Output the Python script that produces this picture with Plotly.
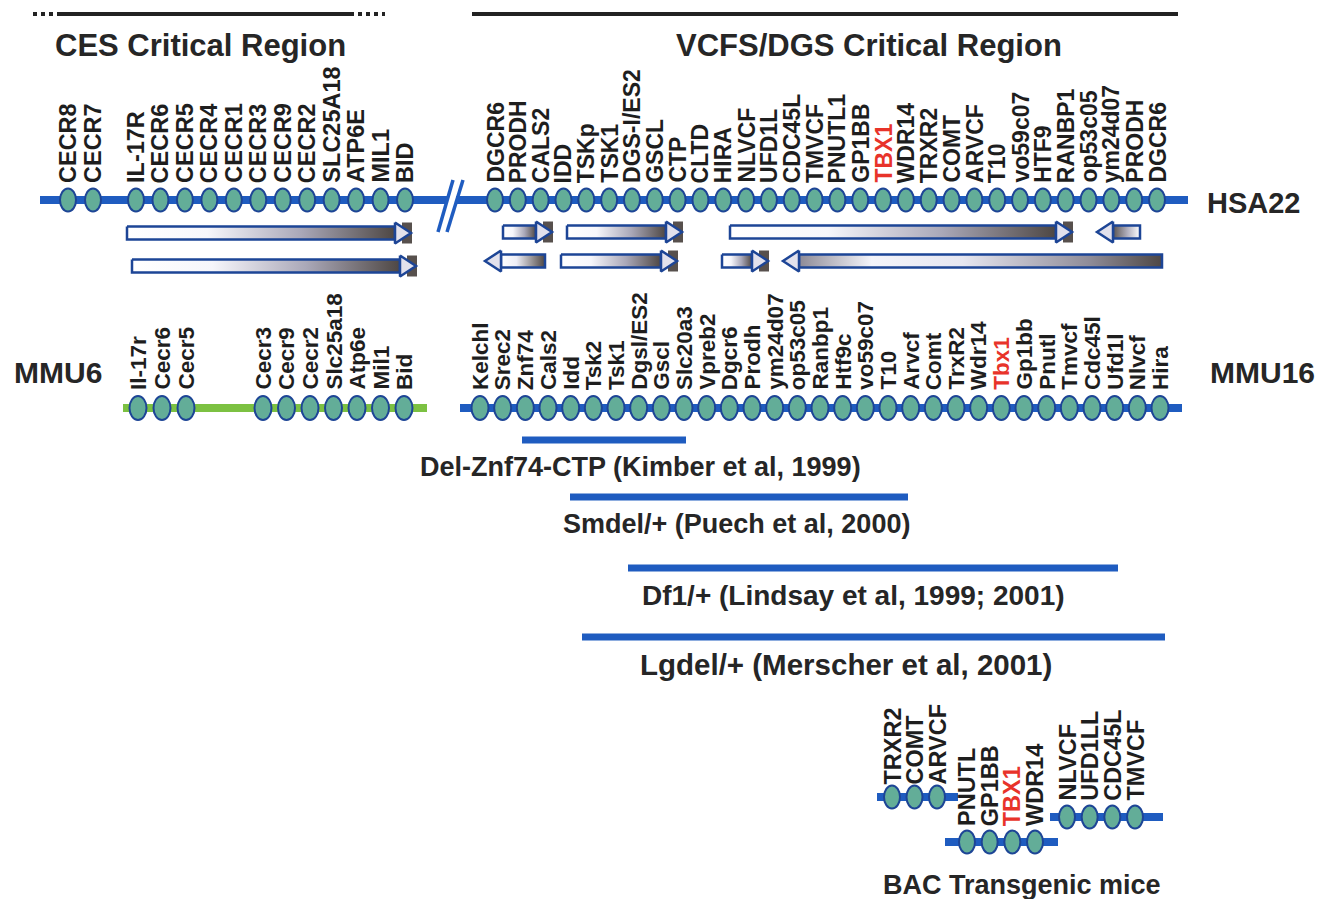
import plotly.graph_objects as go

W, H = 1324, 899

# ------------------------------------------------------------------ data
HSA_LEFT_GENES = ["CECR8", "CECR7", "IL-17R", "CECR6", "CECR5", "CECR4", "CECR1",
                  "CECR3", "CECR9", "CECR2", "SLC25A18", "ATP6E", "MIL1", "BID"]
HSA_RIGHT_GENES = ["DGCR6", "PRODH", "CALS2", "IDD", "TSKp", "TSK1", "DGS-I/ES2", "GSCL",
                   "CTP", "CLTD", "HIRA", "NLVCF", "UFD1L", "CDC45L", "TMVCF", "PNUTL1",
                   "GP1BB", "TBX1", "WDR14", "TRXR2", "COMT", "ARVCF", "T10", "vo59c07",
                   "HTF9", "RANBP1", "op53c05", "ym24d07", "PRODH", "DGCR6"]
MMU6_GENES = ["Il-17r", "Cecr6", "Cecr5", "Cecr3", "Cecr9", "Cecr2", "Slc25a18",
              "Atp6e", "Mil1", "Bid"]
MMU16_GENES = ["Kelchl", "Srec2", "Znf74", "Cals2", "Idd", "Tsk2", "Tsk1", "Dgsl/ES2",
               "Gscl", "Slc20a3", "Vpreb2", "Dgcr6", "Prodh", "ym24d07", "op53c05",
               "Ranbp1", "Htf9c", "vo59c07", "T10", "Arvcf", "Comt", "TrxR2", "Wdr14",
               "Tbx1", "Gp1bb", "Pnutl", "Tmvcf", "Cdc45l", "Ufd1l", "Nlvcf", "Hira"]
BAC_GROUPS = [["TRXR2", "COMT", "ARVCF"],
              ["PNUTL", "GP1BB", "TBX1", "WDR14"],
              ["NLVCF", "UFD1LL", "CDC45L", "TMVCF"]]
HIGHLIGHT = {"TBX1", "Tbx1"}

DELETIONS = ["Del-Znf74-CTP (Kimber et al, 1999)",
             "Smdel/+ (Puech et al, 2000)",
             "Df1/+ (Lindsay et al, 1999; 2001)",
             "Lgdel/+ (Merscher et al, 2001)"]
DEL_START = [522, 570, 628, 582]
DEL_END = [686, 908, 1118, 1165]

# arrows (transcript orientation blocks): tail, tip, row
ARROW_TAIL = [127, 132, 503, 567, 730, 1140, 545, 561, 722, 1162]
ARROW_TIP = [411, 416, 552, 682, 1072, 1097, 485, 677, 768, 783]
ARROW_ROW = [0, 1, 0, 0, 0, 0, 1, 1, 1, 1]
ARROW_SECTION = [0, 0, 1, 1, 1, 1, 1, 1, 1, 1]

# ------------------------------------------------------------------ styles
BLUE = "#1f5cc0"
OUT = "#1d4596"
OVAL = "#63ad98"
GREEN = "#7cc142"
TXT = "#1e1e1e"
RED = "#e8332a"
FONT = "Liberation Sans, Arial, sans-serif"


def spaced(n, a, b):
    return [a + (b - a) * i / (n - 1) for i in range(n)]


hsa_left_x = [68, 93] + spaced(12, 136, 405)
hsa_right_x = spaced(len(HSA_RIGHT_GENES), 495, 1157)
mmu6_x = [138, 162, 186] + spaced(7, 263, 404)
mmu16_x = spaced(len(MMU16_GENES), 480, 1160)
bac_x = [spaced(3, 892, 937), spaced(4, 967, 1035), spaced(4, 1067, 1135)]
bac_y = [797, 842, 817]
bac_line = [(877, 958), (945, 1058), (1050, 1163)]

shapes = []
annotations = []
traces = []


def hline(x0, x1, y, color, width, dash=None):
    ln = dict(color=color, width=width)
    if dash:
        ln["dash"] = dash
    shapes.append(dict(type="line", xref="x", yref="y", x0=x0, x1=x1, y0=y, y1=y, line=ln))


def oval(x, y, rx=8, ry=11.5):
    shapes.append(dict(type="circle", xref="x", yref="y", x0=x - rx, x1=x + rx,
                       y0=y - ry, y1=y + ry, fillcolor=OVAL,
                       line=dict(color=OUT, width=2)))


def text(x, y, s, size, color=TXT, angle=0, xa="center", ya="middle"):
    annotations.append(dict(x=x, y=y, xref="x", yref="y", text=s, showarrow=False,
                            textangle=angle, xanchor=xa, yanchor=ya,
                            font=dict(family=FONT, size=size, color=color, weight="bold")))


def gene_labels(names, xs, ybottom, size):
    for n, x in zip(names, xs):
        text(x, ybottom, n, size, RED if n in HIGHLIGHT else TXT, angle=-90,
             xa="center", ya="bottom")


# ---- top region bars
hline(33, 57, 14, "#222", 4, "dot")
hline(57, 350, 14, "#222", 4)
hline(350, 385, 14, "#222", 4, "dot")
hline(472, 1178, 14, "#222", 4)
text(200, 45, "CES Critical Region", 31, "#262626")
text(869, 45, "VCFS/DGS Critical Region", 31, "#262626")

# ---- HSA22
hline(40, 447, 200, BLUE, 8)
hline(456, 1188, 200, BLUE, 8)
for xa_, xb_ in [(438, 453), (447, 463)]:
    shapes.append(dict(type="line", xref="x", yref="y", x0=xa_, x1=xb_, y0=232, y1=180,
                       line=dict(color=BLUE, width=3.5)))
for x in hsa_left_x + hsa_right_x:
    oval(x, 200)
gene_labels(HSA_LEFT_GENES, hsa_left_x, 185, 23.5)
gene_labels(HSA_RIGHT_GENES, hsa_right_x, 185, 23)
text(1205, 203, "HSA22", 29, "#262626", xa="left")

# ---- arrows
ROW_Y = {(0, 0): 233, (0, 1): 266, (1, 0): 232, (1, 1): 261}
GRAD_R = [[0, "#ffffff"], [0.3, "#f6f6fb"], [0.65, "#aaa8b8"], [1, "#4e4744"]]
GRAD_L_TAILDARK = [[0, "#ffffff"], [0.35, "#eeeef6"], [1, "#4e4744"]]
GRAD_L_HEADDARK = [[0, "#5a5350"], [0.55, "#b4b2c0"], [1, "#ffffff"]]
GRAD_L_LONG = [[0, "#8d8a96"], [0.2, "#f4f4fa"], [0.45, "#e6e6f0"], [0.8, "#8f8c98"],
               [1, "#4e4744"]]


def arrow(tail, tip, yc, cs):
    d = 1 if tip > tail else -1
    hl, bh, hh = 16, 6.5, 10.5
    base = tip - d * hl
    lo, hi = min(tail, base), max(tail, base)
    traces.append(go.Scatter(
        x=[lo, hi, hi, lo, lo], y=[yc - bh, yc - bh, yc + bh, yc + bh, yc - bh],
        mode="lines", fill="toself",
        fillgradient=dict(type="horizontal", colorscale=cs, start=lo, stop=hi),
        line=dict(color=OUT, width=2.5), hoverinfo="skip"))
    if d == 1:
        traces.append(go.Scatter(
            x=[tip - 9, tip + 1, tip + 1, tip - 9, tip - 9],
            y=[yc - hh, yc - hh, yc + hh, yc + hh, yc - hh],
            mode="lines", fill="toself", fillcolor="#57504d",
            line=dict(width=0), hoverinfo="skip"))
    traces.append(go.Scatter(
        x=[base, tip, base, base], y=[yc - hh, yc, yc + hh, yc - hh],
        mode="lines", fill="toself", fillcolor="#e2e1ec",
        line=dict(color=OUT, width=2.5), hoverinfo="skip"))


for i, (t, p, r, s) in enumerate(zip(ARROW_TAIL, ARROW_TIP, ARROW_ROW, ARROW_SECTION)):
    if p > t:
        cs = GRAD_R
    elif i == 5:
        cs = GRAD_L_HEADDARK
    elif i == 9:
        cs = GRAD_L_LONG
    else:
        cs = GRAD_L_TAILDARK
    arrow(t, p, ROW_Y[(s, r)], cs)

# ---- mouse
text(58, 372, "MMU6", 30, "#262626")
text(1262, 372, "MMU16", 30, "#262626")
hline(123, 427, 408, GREEN, 8)
hline(460, 1182, 408, BLUE, 8)
for x in mmu6_x + mmu16_x:
    oval(x, 408, 8.5, 12)
gene_labels(MMU6_GENES, mmu6_x, 392, 22.5)
gene_labels(MMU16_GENES, mmu16_x, 392, 22.5)

# ---- deletions
DEL_Y = [440, 497, 568, 637]
for name, a, b, y in zip(DELETIONS, DEL_START, DEL_END, DEL_Y):
    hline(a, b, y, BLUE, 7)
CAP_X = [640, 736, 853, 846]
CAP_SIZE = [27, 27, 28, 29.5]
for name, x, y, fs in zip(DELETIONS, CAP_X, DEL_Y, CAP_SIZE):
    text(x, y + 27, name, fs, "#262626")

# ---- BAC transgenic
label_bottom = [787, 828, 803]
for genes, xs, y, (a, b), lb in zip(BAC_GROUPS, bac_x, bac_y, bac_line, label_bottom):
    hline(a, b, y, BLUE, 8)
    for x in xs:
        oval(x, y, 8, 11.5)
    gene_labels(genes, xs, lb, 23.5)
text(1022, 885, "BAC Transgenic mice", 27, "#262626")

fig = go.Figure(traces)
fig.update_layout(
    width=W, height=H, margin=dict(l=0, r=0, t=0, b=0),
    paper_bgcolor="white", plot_bgcolor="white", showlegend=False,
    xaxis=dict(range=[0, W], visible=False, fixedrange=True),
    yaxis=dict(range=[H, 0], visible=False, fixedrange=True),
    shapes=shapes, annotations=annotations,
)
fig.write_html("out.html", config={"displayModeBar": False},
               post_script="document.body.style.margin='0';document.body.style.overflow='hidden';")
